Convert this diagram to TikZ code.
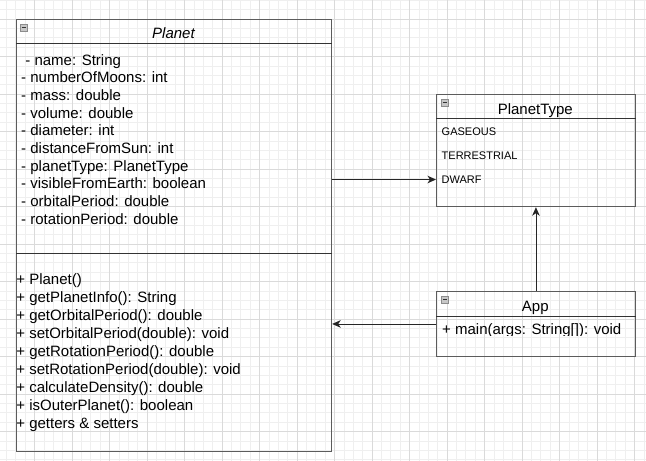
\documentclass[tikz,border=0pt]{standalone}
\usepackage{fontspec}
\setmainfont{Liberation Sans}
\usepackage{xcolor}
\usetikzlibrary{positioning,arrows.meta}
\definecolor{gridmajor}{HTML}{DADADA}
\definecolor{gridminor}{HTML}{EFEFEF}
\definecolor{boxline}{HTML}{5C5C5C}
\tikzset{
  classbox/.style={draw=boxline, line width=1.2pt, anchor=north west, inner sep=0pt},
  sepline/.style={draw=black!80, line width=1pt},
  member/.style={anchor=base west, inner sep=0pt, font=\fontsize{15}{18}\selectfont},
  literal/.style={anchor=base west, inner sep=0pt, font=\fontsize{11}{13}\selectfont},
  title/.style={anchor=base, inner sep=0pt, font=\fontsize{15}{18}\selectfont},
  assoc/.style={draw=black!85, line width=0.9pt, -{Stealth[length=8.5pt,width=7.5pt,inset=2.5pt]}},
  collapse/.style={draw=black!45, fill=black!22, line width=0.6pt, minimum size=7pt,
    inner sep=0pt, anchor=north west,
    path picture={\draw[black!80, line width=1pt] ([xshift=1.5pt]path picture bounding box.west)
      -- ([xshift=-1.5pt]path picture bounding box.east);}}
}

\begin{document}
\begin{tikzpicture}[x=1pt, y=-1pt]
\useasboundingbox (0,0) rectangle (646,461);
\fill[white] (0,0) rectangle (646,461);

% background grid
\foreach \i in {0,...,69} \draw[gridminor, line width=0.7pt] ({-3+9.375*\i},0) -- ++(0,461);
\foreach \j in {0,...,49} \draw[gridminor, line width=0.7pt] (0,{0.25+9.375*\j}) -- ++(646,0);
\foreach \i in {1,...,17} \draw[gridmajor, line width=0.8pt] ({-3+37.5*\i},0) -- ++(0,461);
\foreach \j in {0,...,12} \draw[gridmajor, line width=0.8pt] (0,{19+37.5*\j}) -- ++(646,0);

% Planet
\node[classbox, minimum width=315pt, minimum height=432pt] (planet) at (16,18.5) {};
\draw[sepline] ([yshift=-24.5pt]planet.north west) -- ([yshift=-24.5pt]planet.north east);
\draw[sepline] ([yshift=-234.5pt]planet.north west) -- ([yshift=-234.5pt]planet.north east);
\node[collapse] (planeticon) at (20,24) {};
\node[title] (planettitle) at (173.5,38.5) {\itshape Planet};
\foreach \txt [count=\i from 0] in {{\hspace*{4.2pt}- name: String}, {- numberOfMoons: int},
  {- mass: double}, {- volume: double}, {- diameter: int}, {- distanceFromSun: int},
  {- planetType: PlanetType}, {- visibleFromEarth: boolean}, {- orbitalPeriod: double},
  {- rotationPeriod: double}}
  \node[member] (attr\i) at (21,{65+17.67*\i}) {\txt};
\foreach \txt [count=\i from 0] in {{+ Planet()}, {+ getPlanetInfo(): String},
  {+ getOrbitalPeriod(): double}, {+ setOrbitalPeriod(double): void},
  {+ getRotationPeriod(): double}, {+ setRotationPeriod(double): void},
  {+ calculateDensity(): double}, {+ isOuterPlanet(): boolean}, {+ getters \& setters}}
  \node[member] (op\i) at (16.2,{284.3+18.05*\i}) {\txt};

% PlanetType
\node[classbox, minimum width=198.7pt, minimum height=112pt] (ptype) at (436,94) {};
\draw[sepline] ([yshift=-24pt]ptype.north west) -- ([yshift=-24pt]ptype.north east);
\node[collapse] (ptypeicon) at (441,99) {};
\node[title] (ptypetitle) at (535.3,114.3) {PlanetType};
\node[literal] (gaseous) at (441.5,135) {GASEOUS};
\node[literal] (terrestrial) at (441.5,159) {TERRESTRIAL};
\node[literal] (dwarf) at (441.5,183.3) {DWARF};

% App
\node[classbox, minimum width=198.7pt, minimum height=65.3pt] (app) at (436,290.7) {};
\draw[sepline] ([yshift=-25.3pt]app.north west) -- ([yshift=-25.3pt]app.north east);
\node[collapse] (appicon) at (441,296) {};
\node[title] (apptitle) at (535.3,311) {App};
\begin{scope}
\clip (437,317) rectangle (634,335.3);
\node[member] (mainop) at (442,334.5) {+ main(args: String[]): void};
\end{scope}

% connectors
\draw[assoc] (planet.east |- dwarf.west) -- (ptype.west |- dwarf.west);
\draw[assoc] (app.north) -- (ptype.south);
\draw[assoc] (app.west) -- (planet.east |- app.west);
\end{tikzpicture}
\end{document}
